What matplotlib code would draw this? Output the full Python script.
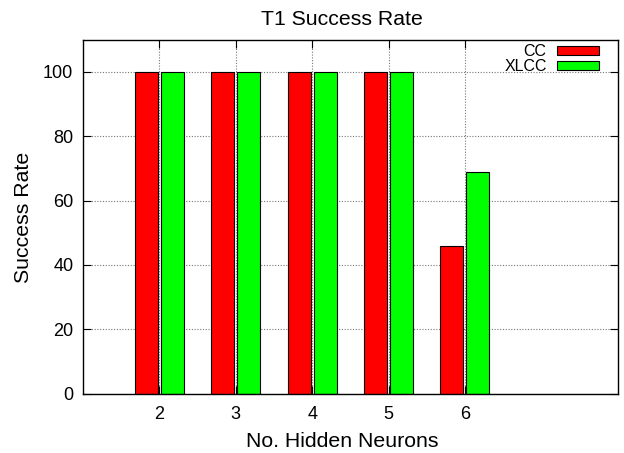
import matplotlib
matplotlib.use("Agg")
import matplotlib.pyplot as plt
import numpy as np

plt.rcParams['font.family'] = ['Liberation Sans', 'DejaVu Sans']

categories = [2, 3, 4, 5, 6]
cc = [100, 100, 100, 100, 46]
xlcc = [100, 100, 100, 100, 69]
yticks = [0, 20, 40, 60, 80, 100]

W, H = 624, 453
fig = plt.figure(figsize=(W/100, H/100), dpi=100)
ax = fig.add_axes([83/W, 1-393.7/H, (617.7-83)/W, (393.7-39.5)/H])

x = np.array(categories, dtype=float)
w = 0.3
ax.bar(x - 0.17, cc, width=w, color='#ff0000', edgecolor='black', linewidth=0.8, label='CC', zorder=3)
ax.bar(x + 0.17, xlcc, width=w, color='#00ff00', edgecolor='black', linewidth=0.8, label='XLCC', zorder=3)

ax.set_xlim(1, 8)
ax.set_ylim(0, 110)
ax.set_xticks(categories)
ax.set_yticks(yticks)
ax.grid(True, linestyle=(0, (1, 1.5)), color='#777777', linewidth=0.8, zorder=0)
ax.tick_params(direction='in', top=True, right=True, labelsize=13, length=6)
ax.tick_params(axis='y', pad=7)
ax.tick_params(axis='x', pad=9)
for s in ax.spines.values():
    s.set_linewidth(1.0)
    s.set_zorder(5)

fig.text(342/W, 1-25/H, 'T1 Success Rate', fontsize=15.3, ha='center', va='baseline')
fig.text(342/W, 1-446.7/H, 'No. Hidden Neurons', fontsize=15.3, ha='center', va='baseline')
fig.text(24/W, 1-217/H, 'Success Rate', fontsize=15.3, ha='center', va='center', rotation=90)

leg = ax.legend(loc='upper right', bbox_to_anchor=(599/W, 1-44/H), bbox_transform=fig.transFigure,
                frameon=False, fontsize=11.5, markerfirst=False,
                handlelength=42/16, handleheight=7/16, borderpad=0, borderaxespad=0,
                labelspacing=0.0, handletextpad=0.65)

fig.savefig('out.png', dpi=100)
